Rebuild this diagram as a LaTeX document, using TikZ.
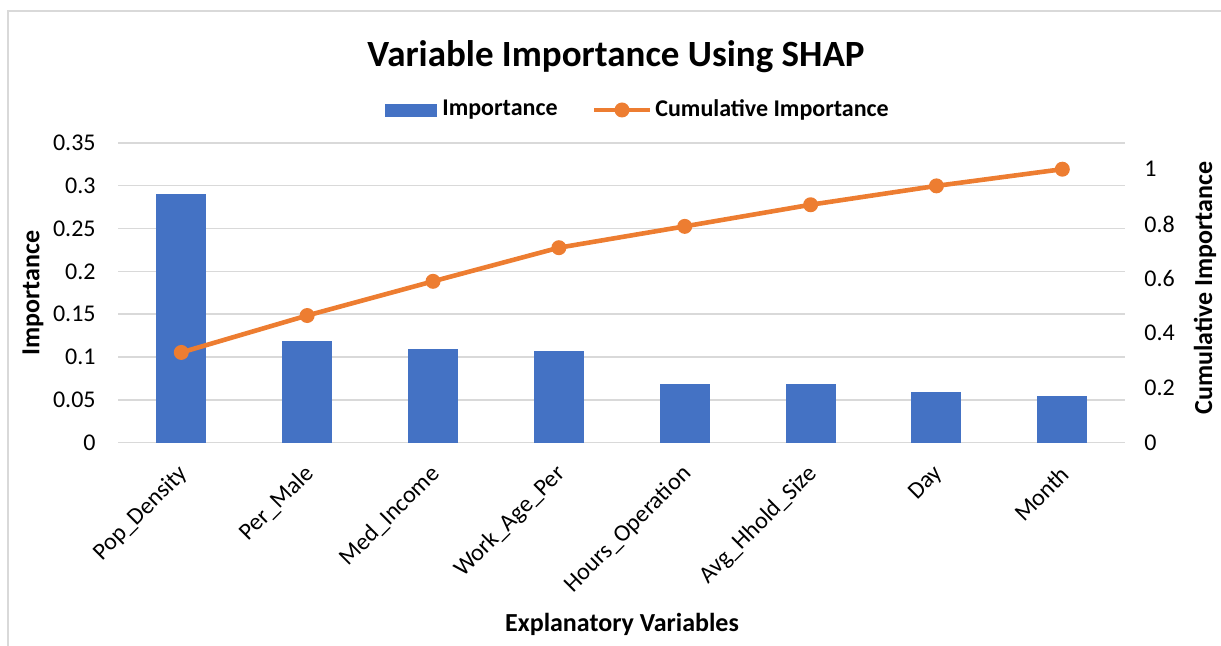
\documentclass[tikz,border=0pt]{standalone}
\usepackage{fontspec}
\setmainfont{Carlito}
\usetikzlibrary{positioning}
\definecolor{barBlue}{HTML}{4472C4}
\definecolor{cumOrange}{HTML}{ED7D31}
\definecolor{gridGray}{HTML}{D9D9D9}
\tikzstyle{bar} = [fill=barBlue, draw=none]
\tikzstyle{gridline} = [draw=gridGray, line width=0.75pt]
\tikzstyle{frame} = [draw=gridGray, line width=1pt]
\tikzstyle{cumline} = [draw=cumOrange, line width=2.3pt, line join=round]
\tikzstyle{dot} = [circle, fill=cumOrange, inner sep=0pt, minimum size=7.5pt]
\tikzstyle{ticklabel} = [font=\fontsize{12}{14}\selectfont, inner sep=0pt]
\tikzstyle{catlabel} = [font=\fontsize{12}{14}\selectfont, inner sep=0pt,%
rotate=45, anchor=east]
\tikzstyle{axistitle} = [font=\bfseries\fontsize{13}{15}\selectfont, inner sep=0pt]
\tikzstyle{legendtext} = [font=\bfseries\fontsize{12}{14}\selectfont,%
inner sep=0pt, anchor=west]

\begin{document}
\begin{tikzpicture}[x=0.5pt, y=-0.5pt]
    \useasboundingbox (0,0) rectangle (1221,646);
    \draw [frame] (8,646) -- (8,11) -- (1221,11);

    \node (title) [font=\bfseries\fontsize{18.5}{22}\selectfont] at (616,57)%
      {Variable Importance Using SHAP};

    % legend
    \fill [barBlue] (385,104) rectangle (437,117);
    \node (legImp) [legendtext] at (442,110) {Importance};
    \draw [cumline] (594,110) -- (650,110);
    \node (legDot) [dot] at (622,110) {};
    \node (legCum) [legendtext] at (655,110) {Cumulative Importance};

    % grid and left axis
    \foreach \i/\lab in {0/0,1/0.05,2/0.1,3/0.15,4/0.2,5/0.25,6/0.3,7/0.35} {
      \draw [gridline] (118,442.7-42.83*\i) -- (1125,442.7-42.83*\i);
      \node (yl\i) [ticklabel, anchor=east] at (96,442.7-42.83*\i) {\lab};
    }
    % right axis
    \foreach \i/\lab in {0/0,1/0.2,2/0.4,3/0.6,4/0.8,5/1} {
      \node (yr\i) [ticklabel, anchor=west] at (1144,442.7-54.7*\i) {\lab};
    }

    % bars
    \foreach \i/\v in {0/0.290,1/0.119,2/0.1095,3/0.107,4/0.0685,5/0.068,%
      6/0.059,7/0.0545} {
      \fill [bar] (181.3+125.86*\i-25,442.7) rectangle (181.3+125.86*\i+25,442.7-856.7*\v);
    }

    % category labels
    \foreach \i/\lab in {0/Pop\_Density,1/Per\_Male,2/Med\_Income,%
      3/Work\_Age\_Per,4/Hours\_Operation,5/Avg\_Hhold\_Size,6/Day,7/Month} {
      \node (cat\i) [catlabel] at (181.3+125.86*\i+3,470) {\lab};
    }

    % cumulative importance
    \foreach \i/\c in {0/0.330,1/0.465,2/0.590,3/0.713,4/0.791,5/0.870,%
      6/0.939,7/1.0} {
      \coordinate (p\i) at (181.3+125.86*\i,442.7-273.5*\c);
    }
    \draw [cumline] (p0) -- (p1) -- (p2) -- (p3) -- (p4) -- (p5) -- (p6) -- (p7);
    \foreach \i in {0,...,7} {
      \node (d\i) [dot] at (p\i) {};
    }

    % axis titles
    \node (yTitle) [axistitle, rotate=90] at (33,293) {Importance};
    \node (y2Title) [axistitle, rotate=90] at (1205,288) {Cumulative Importance};
    \node (xTitle) [axistitle] at (622,624) {Explanatory Variables};
  \end{tikzpicture}
\end{document}
